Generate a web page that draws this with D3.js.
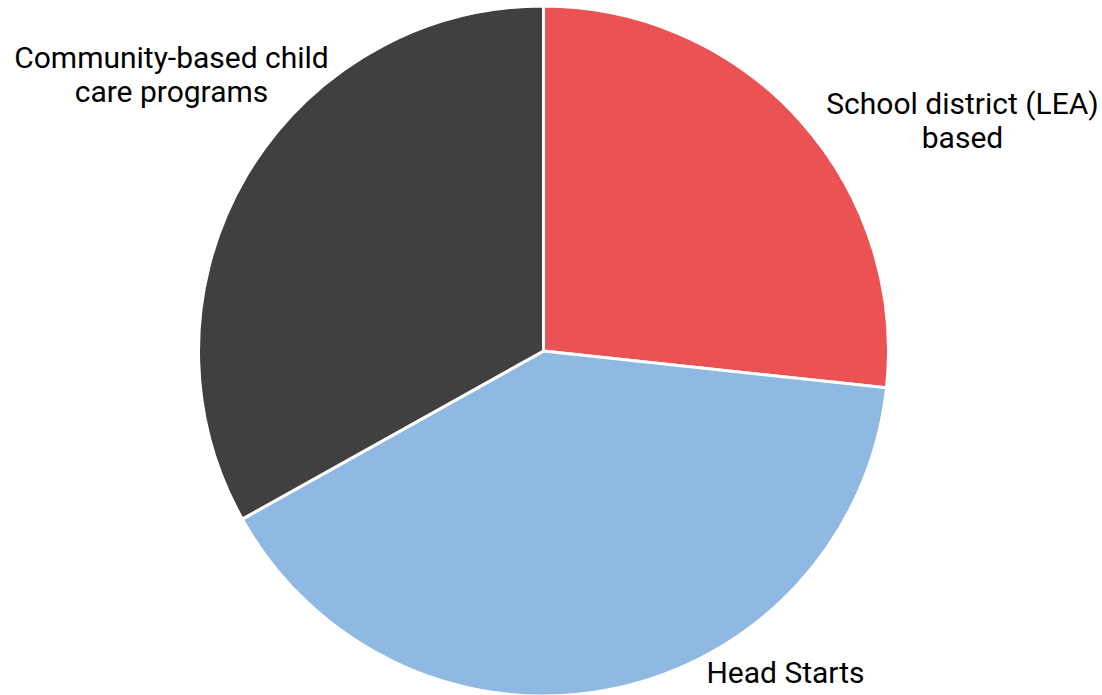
<!DOCTYPE html>
<html><head><meta charset="utf-8">
<script src="https://cdn.jsdelivr.net/npm/d3@7"></script>
<style>html,body{margin:0;padding:0;background:#fff;}svg{display:block;}</style>
</head><body>
<script>
const categories = ["School district (LEA) based", "Head Starts", "Community-based child care programs"];
const values = [26.7, 40.2, 33.1];
const colors = ["#EB5254", "#8FB9E2", "#404040"];
const labelLines = [["School district (LEA)", "based"], ["Head Starts"], ["Community-based child", "care programs"]];

const W = 1102, H = 695;
const cx = 543.5, cy = 351, R = 345;
const svg = d3.select("body").append("svg").attr("width", W).attr("height", H);
const g = svg.append("g").attr("transform", `translate(${cx},${cy})`);

const pie = d3.pie().sort(null).value(d => d)(values);
const arc = d3.arc().innerRadius(0).outerRadius(R);

g.selectAll("path").data(pie).join("path")
  .attr("d", arc)
  .attr("fill", (d, i) => colors[i])
  .attr("stroke", "#fff").attr("stroke-width", 3).attr("stroke-linejoin", "miter");

// label placement: offset relative to pie centre (Excel-style outside labels)
const labelOffsets = [[419, -237], [242, 332], [-372, -283.5]];
const fs = 30, lh = 34;
labelLines.forEach((lines, i) => {
  const t = svg.append("text")
    .attr("x", cx + labelOffsets[i][0])
    .attr("y", cy + labelOffsets[i][1])
    .attr("text-anchor", "middle")
    .attr("font-family", "Roboto, 'Liberation Sans', sans-serif")
    .attr("font-size", fs).attr("fill", "#000");
  lines.forEach((l, k) => t.append("tspan").attr("x", cx + labelOffsets[i][0]).attr("dy", k ? lh : 0).text(l));
});
</script>
</body></html>
